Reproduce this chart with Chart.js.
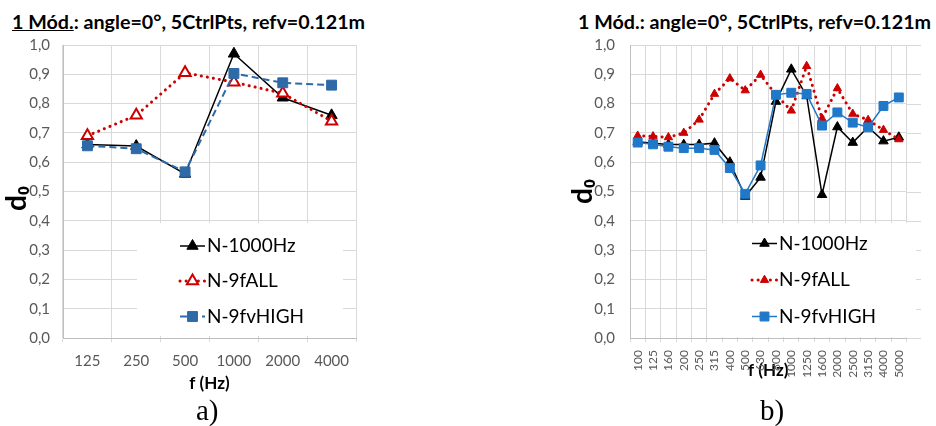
<!DOCTYPE html>
<html>
<head>
<meta charset="utf-8">
<script src="https://cdn.jsdelivr.net/npm/chart.js@4.4.1/dist/chart.umd.min.js"></script>
<style>
  body { margin: 0; background: #fff; }
  #page { position: relative; width: 936px; height: 426px; overflow: hidden; font-family: Lato, "Open Sans", sans-serif; }
  .title { position: absolute; top: 12px; font-weight: bold; font-size: 19.7px; line-height: 20px; white-space: nowrap; color: #000; }
  .cap { position: absolute; top: 394px; font-family: "Liberation Serif", serif; font-size: 29px; line-height: 32px; color: #000; }
  canvas { position: absolute; top: 0; }
</style>
</head>
<body>
<div id="page">
  <div class="title" style="left:12px"><u>1 Mód.</u>: angle=0°, 5CtrlPts, refv=0.121m</div>
  <div class="title" style="left:578px">1 Mód.: angle=0°, 5CtrlPts, refv=0.121m</div>
  <canvas id="chartA" width="370" height="426" style="left:0"></canvas>
  <canvas id="chartB" width="466" height="426" style="left:470px"></canvas>
  <div class="cap" style="left:196px">a)</div>
  <div class="cap" style="left:760px">b)</div>
</div>
<script>
// a) octave bands
var bandsA = ['125', '250', '500', '1000', '2000', '4000'];
var n1000A = [0.66, 0.655, 0.56, 0.97, 0.82, 0.76];
var nAllA  = [0.69, 0.76, 0.905, 0.873, 0.835, 0.74];
var nHighA = [0.656, 0.646, 0.567, 0.903, 0.871, 0.863];

// b) third-octave bands
var bandsB = ['100', '125', '160', '200', '250', '315', '400', '500', '630', '800',
              '1000', '1250', '1600', '2000', '2500', '3150', '4000', '5000'];
var n1000B = [0.67, 0.665, 0.66, 0.66, 0.66, 0.665, 0.60, 0.483, 0.548, 0.807,
              0.917, 0.826, 0.489, 0.72, 0.667, 0.72, 0.672, 0.685];
var nAllB  = [0.69, 0.688, 0.685, 0.70, 0.745, 0.833, 0.886, 0.845, 0.898, 0.83,
              0.776, 0.928, 0.749, 0.852, 0.765, 0.744, 0.71, 0.678];
var nHighB = [0.667, 0.661, 0.653, 0.648, 0.648, 0.642, 0.58, 0.492, 0.589, 0.83,
              0.837, 0.833, 0.725, 0.77, 0.735, 0.719, 0.792, 0.821];

var yTickLabels = ['0,0', '0,1', '0,2', '0,3', '0,4', '0,5', '0,6', '0,7', '0,8', '0,9', '1,0'];
var seriesNames = ['N-1000Hz', 'N-9fALL', 'N-9fvHIGH'];

var gridColor = '#d9d9d9';
var tickColor = '#595959';

// white legend box inside the plot + legend rows, drawn by hand like Excel does
var legendBox = {
    id: 'legendBox',
    beforeDatasetsDraw: function(chart, args, opts) {
        var ctx = chart.ctx, area = chart.chartArea;
        ctx.save();
        if (opts.gridExtend) {
            var ys = chart.scales.y;
            ctx.strokeStyle = gridColor;
            ctx.lineWidth = 1;
            ys.ticks.forEach(function(t, i) {
                var py = Math.round(ys.getPixelForTick(i)) + 0.5;
                ctx.beginPath();
                ctx.moveTo(area.right, py);
                ctx.lineTo(area.right + opts.gridExtend, py);
                ctx.stroke();
            });
        }
        ctx.fillStyle = '#fff';
        ctx.fillRect(opts.box[0], opts.box[1], opts.box[2], opts.box[3]);
        ctx.restore();
    },
    afterDatasetsDraw: function(chart, args, opts) {
        var ctx = chart.ctx;
        ctx.save();
        chart.data.datasets.forEach(function(ds, i) {
            var y = opts.rows[i], x0 = opts.lineX;
            ctx.strokeStyle = ds.borderColor;
            ctx.lineWidth = ds.borderWidth;
            ctx.setLineDash(ds.borderDash || []);
            ctx.lineCap = ds.borderCapStyle || 'butt';
            ctx.beginPath();
            ctx.moveTo(x0, y);
            ctx.lineTo(x0 + opts.lineLen, y);
            ctx.stroke();
            ctx.setLineDash([]);
            ctx.lineCap = 'butt';
            ctx.fillStyle = ds.pointBackgroundColor;
            ctx.strokeStyle = ds.pointBorderColor;
            ctx.lineWidth = ds.pointBorderWidth;
            Chart.helpers.drawPoint(ctx, {
                pointStyle: ds.pointStyle, radius: ds.pointRadius, rotation: 0, borderWidth: ds.pointBorderWidth
            }, x0 + opts.lineLen / 2, y);
            ctx.fillStyle = '#000';
            ctx.font = opts.font;
            ctx.textBaseline = 'middle';
            ctx.textAlign = 'left';
            ctx.fillText(ds.label, x0 + opts.lineLen + opts.gap, y);
        });
        ctx.restore();
    }
};

function yScale(titleText, titlePad, labelPad) {
    return {
        min: 0, max: 1,
        ticks: { stepSize: 0.1, color: tickColor, padding: labelPad,
                 font: { family: 'Lato', size: 15 },
                 callback: function(v, i) { return yTickLabels[i]; } },
        grid: { color: gridColor, drawTicks: false },
        border: { color: '#bfbfbf' },
        title: { display: true, text: titleText, color: '#000',
                 font: { family: 'Lato', size: 28, weight: 'bold' },
                 padding: { top: titlePad, bottom: 0 } }
    };
}

function xScale(labels, rot, font, labelPad, titlePad) {
    return {
        type: 'category',
        labels: labels,
        offset: true,
        ticks: { color: tickColor, autoSkip: false, minRotation: rot, maxRotation: rot,
                 padding: labelPad, font: font },
        grid: { color: gridColor, offset: true, drawTicks: true, tickLength: 4 },
        border: { color: '#bfbfbf' },
        title: { display: true, text: 'f (Hz)', color: '#000',
                 font: { family: 'Lato', size: 17, weight: 'bold' },
                 padding: { top: 0, bottom: titlePad } },
        afterFit: function(s) { s.height = 88; }
    };
}

// ---- a) ----
new Chart(document.getElementById('chartA').getContext('2d'), {
    type: 'line',
    data: {
        labels: bandsA,
        datasets: [
            { label: seriesNames[0], data: n1000A, borderColor: '#000', borderWidth: 1.5,
              pointStyle: 'triangle', pointRadius: 6.5, pointBackgroundColor: '#000',
              pointBorderColor: '#000', pointBorderWidth: 1, order: 3 },
            { label: seriesNames[1], data: nAllA, borderColor: '#cc0000', borderWidth: 3,
              borderDash: [0.1, 6], borderCapStyle: 'round',
              pointStyle: 'triangle', pointRadius: 6.5, pointBackgroundColor: '#fff',
              pointBorderColor: '#cc0000', pointBorderWidth: 2, order: 2 },
            { label: seriesNames[2], data: nHighA, borderColor: '#2e6aa8', borderWidth: 2,
              borderDash: [7, 4],
              pointStyle: 'rect', pointRadius: 7, pointBackgroundColor: '#2e6aa8',
              pointBorderColor: '#2e6aa8', pointBorderWidth: 1, order: 1 }
        ]
    },
    options: {
        responsive: false,
        animation: false,
        layout: { padding: { left: 0, right: 14, top: 45, bottom: 0 } },
        scales: {
            x: xScale(bandsA, 0, { family: 'Lato', size: 15 }, 10, 32),
            y: Object.assign(yScale('d\u2080\u2002', 0, 13), { afterFit: function(s) { s.width = 63; } })
        },
        plugins: {
            legend: { display: false },
            tooltip: { enabled: false },
            legendBox: { box: [137, 223, 206, 113], rows: [246, 281, 316.5],
                         lineX: 180, lineLen: 25, gap: 2, font: '19px Lato' }
        }
    },
    plugins: [legendBox]
});

// ---- b) ----
new Chart(document.getElementById('chartB').getContext('2d'), {
    type: 'line',
    data: {
        labels: bandsB,
        datasets: [
            { label: seriesNames[0], data: n1000B, borderColor: '#000', borderWidth: 1.5,
              pointStyle: 'triangle', pointRadius: 5.5, pointBackgroundColor: '#000',
              pointBorderColor: '#000', pointBorderWidth: 1, order: 3 },
            { label: seriesNames[1], data: nAllB, borderColor: '#cc0000', borderWidth: 3,
              borderDash: [0.1, 6], borderCapStyle: 'round',
              pointStyle: 'triangle', pointRadius: 4.8, pointBackgroundColor: '#cc0000',
              pointBorderColor: '#cc0000', pointBorderWidth: 1, order: 2 },
            { label: seriesNames[2], data: nHighB, borderColor: '#1f78c8', borderWidth: 1.5,
              pointStyle: 'rect', pointRadius: 6.3, pointBackgroundColor: '#1f78c8',
              pointBorderColor: '#1f78c8', pointBorderWidth: 1, order: 1 }
        ]
    },
    options: {
        responsive: false,
        animation: false,
        layout: { padding: { left: 0, right: 29.5, top: 45, bottom: 0 } },
        scales: {
            x: xScale(bandsB, 90, { family: 'Lato', size: 12 }, 8, 45),
            y: Object.assign(yScale('d\u2080', 96, 15), { afterFit: function(s) { s.width = 160; } })
        },
        plugins: {
            legend: { display: false },
            tooltip: { enabled: false },
            legendBox: { box: [237, 223, 209, 114], rows: [243.5, 280, 316.5],
                         lineX: 282, lineLen: 25, gap: 2, font: '19px Lato', gridExtend: 14.5 }
        }
    },
    plugins: [legendBox]
});
</script>
</body>
</html>
